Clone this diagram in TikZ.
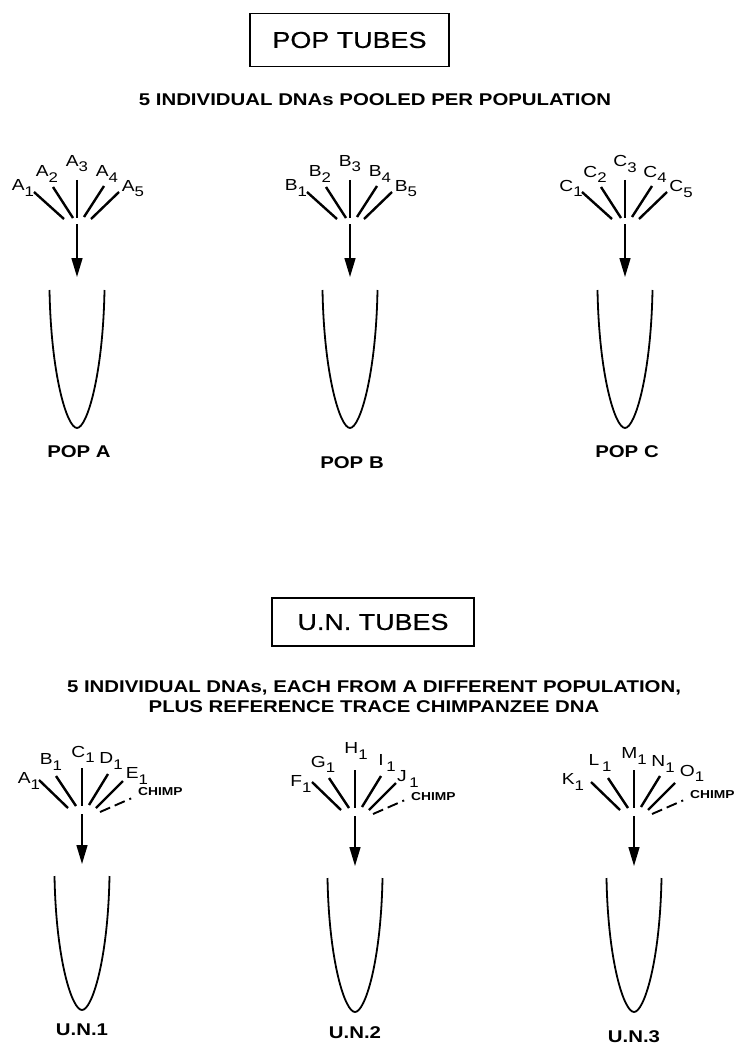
\documentclass[tikz,border=0pt]{standalone}
\usepackage{fontspec}
\setmainfont{Liberation Sans}[FakeStretch=1.2]
\newfontfamily\titlefont{Liberation Sans}[FakeStretch=1.17, FakeBold=0.7]
\usetikzlibrary{arrows.meta}

% subscript digit of a DNA label
\newcommand{\dnasub}[1]{\raisebox{-0.6ex}{\fontsize{14}{14}\selectfont #1}}

\begin{document}
\begin{tikzpicture}[x=1pt,y=-1pt,
    titlebox/.style={draw, line width=1.1pt, minimum width=199pt, minimum height=53pt,
      font=\titlefont\fontsize{23}{26}\selectfont},
    caption/.style={font=\bfseries\fontsize{17}{20}\selectfont, align=center},
    strand/.style={line width=2.4pt},
    chimpline/.style={line width=1.9pt, dash pattern=on 11pt off 5pt on 11pt off 5pt on 2pt off 30pt},
    dnalabel/.style={font=\fontsize{16}{16}\selectfont, inner sep=0pt},
    chimplabel/.style={font=\bfseries\fontsize{11.5}{12}\selectfont, inner sep=0pt, anchor=west},
    flow/.style={line width=1.5pt, -{Triangle[length=19pt,width=11pt]}},
    tube/.style={line width=1.8pt},
    tubelabel/.style={font=\bfseries\fontsize{17}{17}\selectfont}
  ]
  \useasboundingbox (0,0) rectangle (740,1051);

  % --- pop tubes ---
  \node[titlebox] (poptitle) at (349.5,40) {POP TUBES};
  \node[caption] (popcap) at (375,100) {5 INDIVIDUAL DNAs POOLED PER POPULATION};

  \foreach \fan/\cx/\ly in {A/77/452, B/350/463, C/625/452} {
    \begin{scope}[shift={(\cx,220)}]
      \foreach \i/\ox/\oy/\ix/\iy/\lx/\lyy in {1/-43/-28/-13/-1/-54/-32, 2/-24/-33/-4/-2/-30/-46,
          3/0/-40/0/-2/0/-56, 4/27/-34/7/-3/30/-46, 5/42/-28/14/-1/56/-31} {
        \coordinate (\fan\i-out) at (\ox,\oy);
        \coordinate (\fan\i-in) at (\ix,\iy);
        \draw[strand] (\fan\i-out) -- (\fan\i-in);
        \node[dnalabel] (lab\fan\i) at (\lx,\lyy) {\fan\dnasub{\i}};
      }
      \coordinate (fan\fan) at (0,4);
      \coordinate (tube\fan) at (0,57);
      \draw[flow] (fan\fan) -- (tube\fan);
      % tube
      \draw[tube] (-27.5,70) .. controls (-26,155) and (-10,208) .. (0,208)
        .. controls (10,208) and (26,155) .. (27.5,70);
    \end{scope}
    \node[tubelabel] (pop\fan) at (\cx+2,\ly) {POP \fan};
  }

  % --- u.n. tubes ---
  \node[titlebox, minimum width=202pt, minimum height=48pt] (untitle) at (373,622) {U.N. TUBES};
  \node[caption] (uncap) at (374,697) {5 INDIVIDUAL DNAs, EACH FROM A DIFFERENT POPULATION,\\
    PLUS REFERENCE TRACE CHIMPANZEE DNA};

  \foreach \fan/\cx/\cy/\ly/\num in {P/82/808/1030/1, Q/355/810/1033/2, R/634/810/1037/3} {
    \begin{scope}[shift={(\cx,\cy)}]
      \foreach \i/\ox/\oy/\ix/\iy in {1/-43/-28/-14/0, 2/-26/-32/-6/-2, 3/0/-40/0/-2,
          4/26/-34/7/-3, 5/41/-27/14/0} {
        \coordinate (\fan\i-out) at (\ox,\oy);
        \coordinate (\fan\i-in) at (\ix,\iy);
        \draw[strand] (\fan\i-out) -- (\fan\i-in);
      }
      \coordinate (\fan-chimpin) at (18,4);
      \coordinate (\fan-chimpout) at (50,-10);
      \draw[chimpline] (\fan-chimpin) -- (\fan-chimpout);
      \coordinate (fan\fan) at (0,6);
      \coordinate (tube\fan) at (0,56);
      \draw[flow] (fan\fan) -- (tube\fan);
      \draw[tube] (-27.5,68) .. controls (-26,152) and (-10,202) .. (0,202)
        .. controls (10,202) and (26,152) .. (27.5,68);
    \end{scope}
    \node[tubelabel] (un\num) at (\cx,\ly) {U.N.\num};
  }

  % labels of the u.n. fans
  \begin{scope}[shift={(82,808)}]
    \node[dnalabel] (labA) at (-53,-27) {A\dnasub{1}};
    \node[dnalabel] (labB) at (-31,-46) {B\dnasub{1}};
    \node[dnalabel] (labC) at (1,-54) {C\dnasub{1}};
    \node[dnalabel] (labD) at (29,-47) {D\dnasub{1}};
    \node[dnalabel] (labE) at (55,-32) {E\dnasub{1}};
    \node[chimplabel] (chimpP) at (56,-16) {CHIMP};
  \end{scope}
  \begin{scope}[shift={(355,810)}]
    \node[dnalabel] (labF) at (-54,-26) {F\dnasub{1}};
    \node[dnalabel] (labG) at (-32,-46) {G\dnasub{1}};
    \node[dnalabel] (labH) at (1,-59) {H\dnasub{1}};
    \node[dnalabel] (labI) at (32,-47) {I\,\dnasub{1}};
    \node[dnalabel] (labJ) at (53,-31) {J\,\dnasub{1}};
    \node[chimplabel] (chimpQ) at (56,-13) {CHIMP};
  \end{scope}
  \begin{scope}[shift={(634,810)}]
    \node[dnalabel] (labK) at (-61,-28) {K\dnasub{1}};
    \node[dnalabel] (labL) at (-34,-47) {L\,\dnasub{1}};
    \node[dnalabel] (labM) at (0,-54) {M\dnasub{1}};
    \node[dnalabel] (labN) at (29,-46) {N\dnasub{1}};
    \node[dnalabel] (labO) at (58,-37) {O\dnasub{1}};
    \node[chimplabel] (chimpR) at (56,-15) {CHIMP};
  \end{scope}
\end{tikzpicture}
\end{document}
